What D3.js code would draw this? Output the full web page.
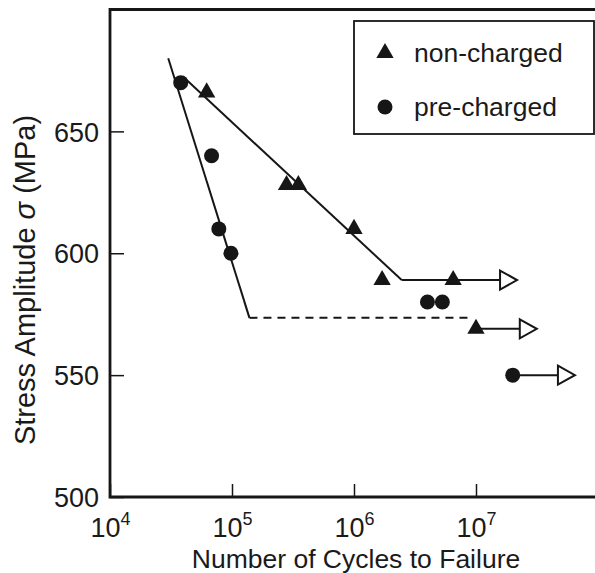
<!DOCTYPE html>
<html><head><meta charset="utf-8">
<script src="https://cdn.jsdelivr.net/npm/d3@7"></script>
<style>
body{margin:0;background:#fff}
svg{display:block}
text{font-family:"Liberation Sans",Arial,Helvetica,sans-serif;fill:#1a1a1a}
</style>
</head><body>
<svg id="chart" width="595" height="573"></svg>
<script>
// ---- data ----
const nonChargedN = [6.2e4, 2.8e5, 3.5e5, 1.0e6, 1.7e6, 6.5e6, 1.0e7];
const nonChargedS = [666, 628, 628, 610, 589, 589, 569];
const preChargedN = [3.8e4, 6.8e4, 7.8e4, 9.8e4, 4.0e6, 5.3e6, 2.0e7];
const preChargedS = [670, 640, 610, 600, 580, 580, 550];

const nonChargedFitN = [3.96e4, 2.46e6];
const nonChargedFitS = [672.5, 589];
const preChargedFitN = [3.0e4, 1.39e5];
const preChargedFitS = [680, 573.5];
const preChargedLimitN = [1.39e5, 9.2e6];
const preChargedLimitS = [573.5, 573.5];

const runoutFromN = [2.46e6, 1.0e7, 2.0e7];
const runoutToN = [2.17e7, 3.15e7, 6.47e7];
const runoutS = [589, 569, 550];

const xTicks = [1e4, 1e5, 1e6, 1e7];
const xTickExp = ["4", "5", "6", "7"];
const yTicks = [500, 550, 600, 650];

const legendLabels = ["non-charged", "pre-charged"];
const xTitle = "Number of Cycles to Failure";

// ---- layout ----
const L = 110, R = 598, T = 9.5, B = 497;
const svg = d3.select("#chart");
const x = d3.scaleLog().domain([1e4, 1e8]).range([L, R]);
const y = d3.scaleLinear().domain([500, 700]).range([B, T]);
const ink = "#161616";

// fit lines
const line = d3.line().x(d => x(d[0])).y(d => y(d[1]));
svg.append("path").attr("d", line(d3.zip(nonChargedFitN, nonChargedFitS)))
  .attr("fill", "none").attr("stroke", ink).attr("stroke-width", 2);
svg.append("path").attr("d", line(d3.zip(preChargedFitN, preChargedFitS)))
  .attr("fill", "none").attr("stroke", ink).attr("stroke-width", 2);
svg.append("path").attr("d", line(d3.zip(preChargedLimitN, preChargedLimitS)))
  .attr("fill", "none").attr("stroke", ink).attr("stroke-width", 2)
  .attr("stroke-dasharray", "8,6");

// run-out arrows
const headLen = 17, headHalf = 9.5;
runoutS.forEach((s, i) => {
  const x0 = x(runoutFromN[i]), x1 = x(runoutToN[i]), yy = y(s);
  svg.append("line").attr("x1", x0).attr("x2", x1 - headLen).attr("y1", yy).attr("y2", yy)
    .attr("stroke", ink).attr("stroke-width", 2);
  svg.append("path")
    .attr("d", `M${x1 - headLen},${yy - headHalf}L${x1},${yy}L${x1 - headLen},${yy + headHalf}Z`)
    .attr("fill", "#fff").attr("stroke", ink).attr("stroke-width", 2).attr("stroke-linejoin", "miter");
});

// markers
const tri = d3.symbol().type(d3.symbolTriangle).size(130);
svg.append("g").selectAll("path").data(d3.zip(nonChargedN, nonChargedS)).join("path")
  .attr("d", tri).attr("transform", d => `translate(${x(d[0])},${y(d[1])})`).attr("fill", ink);
svg.append("g").selectAll("circle").data(d3.zip(preChargedN, preChargedS)).join("circle")
  .attr("cx", d => x(d[0])).attr("cy", d => y(d[1])).attr("r", 7.5).attr("fill", ink);

// axes
const xAxis = svg.append("g").attr("transform", `translate(0,${B})`)
  .call(d3.axisBottom(x).tickValues(xTicks).tickSizeInner(-13).tickSizeOuter(0).tickFormat(() => ""));
xAxis.select(".domain").remove();
xAxis.selectAll(".tick line").attr("stroke", ink).attr("stroke-width", 1.5);
xAxis.selectAll(".tick").each(function(d, i) {
  const t = d3.select(this).append("text").attr("y", 40).attr("text-anchor", "middle")
    .attr("font-size", 27).attr("fill", ink);
  t.append("tspan").text("10");
  t.append("tspan").attr("dy", -12).attr("font-size", 18).text(xTickExp[i]);
});

const yAxis = svg.append("g").attr("transform", `translate(${L},0)`)
  .call(d3.axisLeft(y).tickValues(yTicks).tickSizeInner(-14).tickSizeOuter(0).tickPadding(11));
yAxis.select(".domain").remove();
yAxis.selectAll(".tick line").attr("stroke", ink).attr("stroke-width", 1.5);
yAxis.selectAll(".tick text").attr("font-size", 27).attr("fill", ink)
  .attr("font-family", '"Liberation Sans",Arial,sans-serif').attr("dy", "0.36em");

// frame (left, top, bottom)
svg.append("path").attr("d", `M${R},${T}H${L}V${B}H${R}`)
  .attr("fill", "none").attr("stroke", ink).attr("stroke-width", 2.8);

// titles
svg.append("text").attr("x", 356).attr("y", 568).attr("text-anchor", "middle")
  .attr("font-size", 26.5).text(xTitle);
const yt = svg.append("text").attr("transform", "translate(35,280) rotate(-90)")
  .attr("text-anchor", "middle").attr("font-size", 29);
yt.append("tspan").text("Stress Amplitude ");
yt.append("tspan").attr("font-style", "italic").text("σ");
yt.append("tspan").text(" (MPa)");

// legend
const lg = svg.append("g");
lg.append("rect").attr("x", 354).attr("y", 21).attr("width", 240).attr("height", 113)
  .attr("fill", "#fff").attr("stroke", ink).attr("stroke-width", 1.8);
lg.append("path").attr("d", tri).attr("transform", "translate(385,53)").attr("fill", ink);
lg.append("circle").attr("cx", 385).attr("cy", 107).attr("r", 7.5).attr("fill", ink);
lg.append("text").attr("x", 414).attr("y", 62).attr("font-size", 26.5).text(legendLabels[0]);
lg.append("text").attr("x", 414).attr("y", 116).attr("font-size", 26.5).text(legendLabels[1]);
</script>
</body></html>
